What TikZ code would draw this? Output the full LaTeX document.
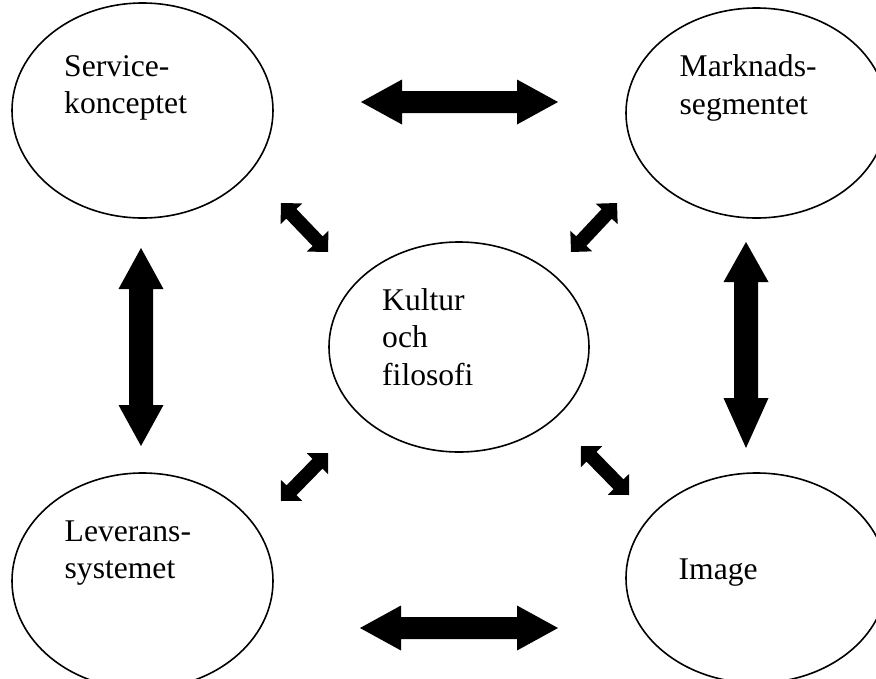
\documentclass[tikz,border=0pt]{standalone}
\usepackage{fontspec}
\setmainfont{Liberation Serif}
\usetikzlibrary{shapes.geometric,calc}

\tikzset{
  oval/.style={ellipse, draw=black, line width=1.6pt, inner sep=0pt, fill=none},
  lbl/.style={anchor=base west, align=left, inner sep=0pt,
              font=\fontsize{31.6}{37.5}\selectfont},
}

% Filled double-headed block arrow between two named coordinates.
% #1, #2: ends; #3: half shaft width; #4: half head width;
% #5: head length at #1; #6: head length at #2
\newcommand\blockarrow[6]{%
  \path ($(#1)!#5!(#2)$) coordinate (ba) ($(#2)!#6!(#1)$) coordinate (bb);
  \fill[black] (#1) -- ($(ba)!#4!90:(#2)$) -- ($(ba)!#3!90:(#2)$)
    -- ($(bb)!#3!-90:(#1)$) -- ($(bb)!#4!-90:(#1)$) -- (#2)
    -- ($(bb)!#4!90:(#1)$) -- ($(bb)!#3!90:(#1)$)
    -- ($(ba)!#3!-90:(#2)$) -- ($(ba)!#4!-90:(#2)$) -- cycle;
}

\begin{document}
\begin{tikzpicture}[x=1pt,y=-1pt]
\useasboundingbox (0,0) rectangle (876,678);
\fill[white] (0,0) rectangle (876,678);

\begin{scope}
  \clip (0,0) rectangle (876,678);
  % the five concepts
  \node[oval, minimum width=261pt, minimum height=215pt] (service)  at (142.5,110.5) {};
  \node[oval, minimum width=261pt, minimum height=210pt] (market)   at (756.5,113) {};
  \node[oval, minimum width=260pt, minimum height=210pt] (culture)  at (459,347) {};
  \node[oval, minimum width=261pt, minimum height=216pt] (delivery) at (142.5,581) {};
  \node[oval, minimum width=261pt, minimum height=210pt] (image)    at (756.5,578) {};
\end{scope}

% labels (anchored at the baseline of their last line)
\node[lbl] (serviceT)  at (64,113.5)  {Service-\\konceptet};
\node[lbl] (marketT)   at (679.5,114) {Marknads-\\segmentet};
\node[lbl] (cultureT)  at (382,385)   {Kultur\\och\\filosofi};
\node[lbl] (deliveryT) at (64.5,578.5){Leverans-\\systemet};
\node[lbl] (imageT)    at (678.5,579) {Image};

% arrow end points
\coordinate (topL) at (361,102);   \coordinate (topR) at (558,102);
\coordinate (botL) at (360,628);   \coordinate (botR) at (558,628);
\coordinate (lftT) at (141,248);   \coordinate (lftB) at (141,446);
\coordinate (rgtT) at (746,242);   \coordinate (rgtB) at (746,448);
\coordinate (dTLa) at (281,203);   \coordinate (dTLb) at (328,252);
\coordinate (dTRa) at (617,203);   \coordinate (dTRb) at (571,252);
\coordinate (dBLa) at (328,453);   \coordinate (dBLb) at (281,501);
\coordinate (dBRa) at (581,446);   \coordinate (dBRb) at (629,495);

% large arrows between the outer concepts
\blockarrow{topL}{topR}{11pt}{22.5pt}{41pt}{41pt}
\blockarrow{botL}{botR}{11pt}{22.5pt}{41pt}{41pt}
\blockarrow{lftT}{lftB}{12pt}{22.5pt}{41pt}{41pt}
\blockarrow{rgtT}{rgtB}{12pt}{22.5pt}{40pt}{50pt}

% small arrows towards the centre
\blockarrow{dTLa}{dTLb}{7pt}{15pt}{15pt}{15pt}
\blockarrow{dTRa}{dTRb}{7pt}{15pt}{15pt}{15pt}
\blockarrow{dBLa}{dBLb}{7pt}{15pt}{15pt}{15pt}
\blockarrow{dBRa}{dBRb}{7pt}{15pt}{15pt}{15pt}
\end{tikzpicture}
\end{document}
